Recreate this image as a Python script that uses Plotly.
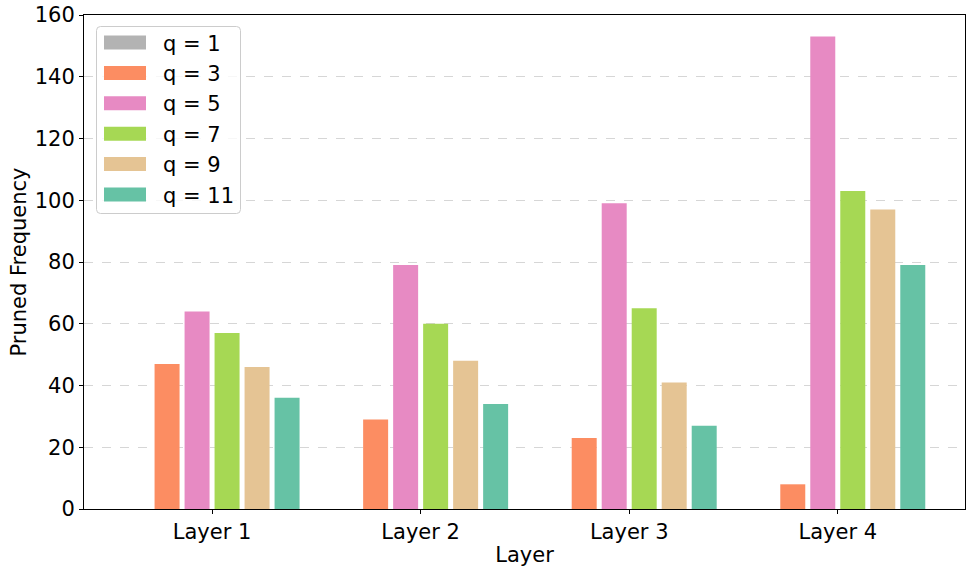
import plotly.graph_objects as go

layers = ["Layer 1", "Layer 2", "Layer 3", "Layer 4"]
q_labels = ["q = 1", "q = 3", "q = 5", "q = 7", "q = 9", "q = 11"]
q1 = [0, 0, 0, 0]
q3 = [47, 29, 23, 8]
q5 = [64, 79, 99, 153]
q7 = [57, 60, 65, 103]
q9 = [46, 48, 41, 97]
q11 = [36, 34, 27, 79]
series = [q1, q3, q5, q7, q9, q11]
colors = ["#b3b3b3", "#fc8d62", "#e78ac3", "#a6d854", "#e5c494", "#66c2a5"]
y_ticks = [0, 20, 40, 60, 80, 100, 120, 140, 160]

FONT = "DejaVu Sans"
FS = 21
xpos = list(range(len(layers)))

fig = go.Figure()
for name, vals, col in zip(q_labels, series, colors):
    fig.add_trace(go.Bar(x=xpos, y=vals, name=name, marker=dict(color=col, line=dict(width=0)),
                         showlegend=False))

W, H = 975, 574
ml, mr, mt, mb = 84, 10, 15, 65
pw, ph = W - ml - mr, H - mt - mb

def px2paper_x(px):
    return (px - ml) / pw

def px2paper_y(py):
    return 1 - (py - mt) / ph

shapes = []
annotations = []
# legend box
bx0, bx1, by0, by1 = 96.5, 240.5, 26.5, 213.5
r = 4
path = (f"M {px2paper_x(bx0 + r)},{px2paper_y(by0)} L {px2paper_x(bx1 - r)},{px2paper_y(by0)} "
        f"Q {px2paper_x(bx1)},{px2paper_y(by0)} {px2paper_x(bx1)},{px2paper_y(by0 + r)} "
        f"L {px2paper_x(bx1)},{px2paper_y(by1 - r)} "
        f"Q {px2paper_x(bx1)},{px2paper_y(by1)} {px2paper_x(bx1 - r)},{px2paper_y(by1)} "
        f"L {px2paper_x(bx0 + r)},{px2paper_y(by1)} "
        f"Q {px2paper_x(bx0)},{px2paper_y(by1)} {px2paper_x(bx0)},{px2paper_y(by1 - r)} "
        f"L {px2paper_x(bx0)},{px2paper_y(by0 + r)} "
        f"Q {px2paper_x(bx0)},{px2paper_y(by0)} {px2paper_x(bx0 + r)},{px2paper_y(by0)} Z")
shapes.append(dict(type="path", xref="paper", yref="paper", path=path,
                   fillcolor="rgba(255,255,255,0.8)", line=dict(color="#cccccc", width=1), layer="above"))
for i, (name, col) in enumerate(zip(q_labels, colors)):
    cy = 42.5 + i * 30.4
    shapes.append(dict(type="rect", xref="paper", yref="paper",
                       x0=px2paper_x(104), x1=px2paper_x(146),
                       y0=px2paper_y(cy - 7), y1=px2paper_y(cy + 7),
                       fillcolor=col, line=dict(width=0), layer="above"))
    annotations.append(dict(xref="paper", yref="paper", x=px2paper_x(161), y=px2paper_y(cy + 1),
                            text=name, showarrow=False, xanchor="left", yanchor="middle",
                            font=dict(family=FONT, size=FS, color="black")))

fig.update_layout(
    width=W, height=H,
    margin=dict(l=ml, r=mr, t=mt, b=mb),
    paper_bgcolor="white", plot_bgcolor="white",
    barmode="group", bargap=0.137, bargroupgap=0.167,
    font=dict(family=FONT, size=FS, color="black"),
    shapes=shapes, annotations=annotations,
    xaxis=dict(range=[-0.614, 3.61], tickvals=xpos, ticktext=layers, automargin=False,
               showline=True, linecolor="black", linewidth=1, mirror=True,
               ticks="outside", ticklen=4, tickcolor="black", showgrid=False, zeroline=False,
               tickfont=dict(family=FONT, size=FS),
               title=dict(text="Layer", font=dict(family=FONT, size=FS), standoff=4)),
    yaxis=dict(range=[0, 160], tickvals=y_ticks, automargin=False,
               showline=True, linecolor="black", linewidth=1, mirror=True,
               ticks="outside", ticklen=4, tickcolor="black",
               showgrid=True, gridcolor="#d6d6d6", griddash="dash", gridwidth=1, zeroline=False,
               tickfont=dict(family=FONT, size=FS),
               title=dict(text="Pruned Frequency", font=dict(family=FONT, size=FS), standoff=2)),
)

fig.write_html("out.html", config={"displayModeBar": False},
               post_script="document.body.style.margin='0px';")
